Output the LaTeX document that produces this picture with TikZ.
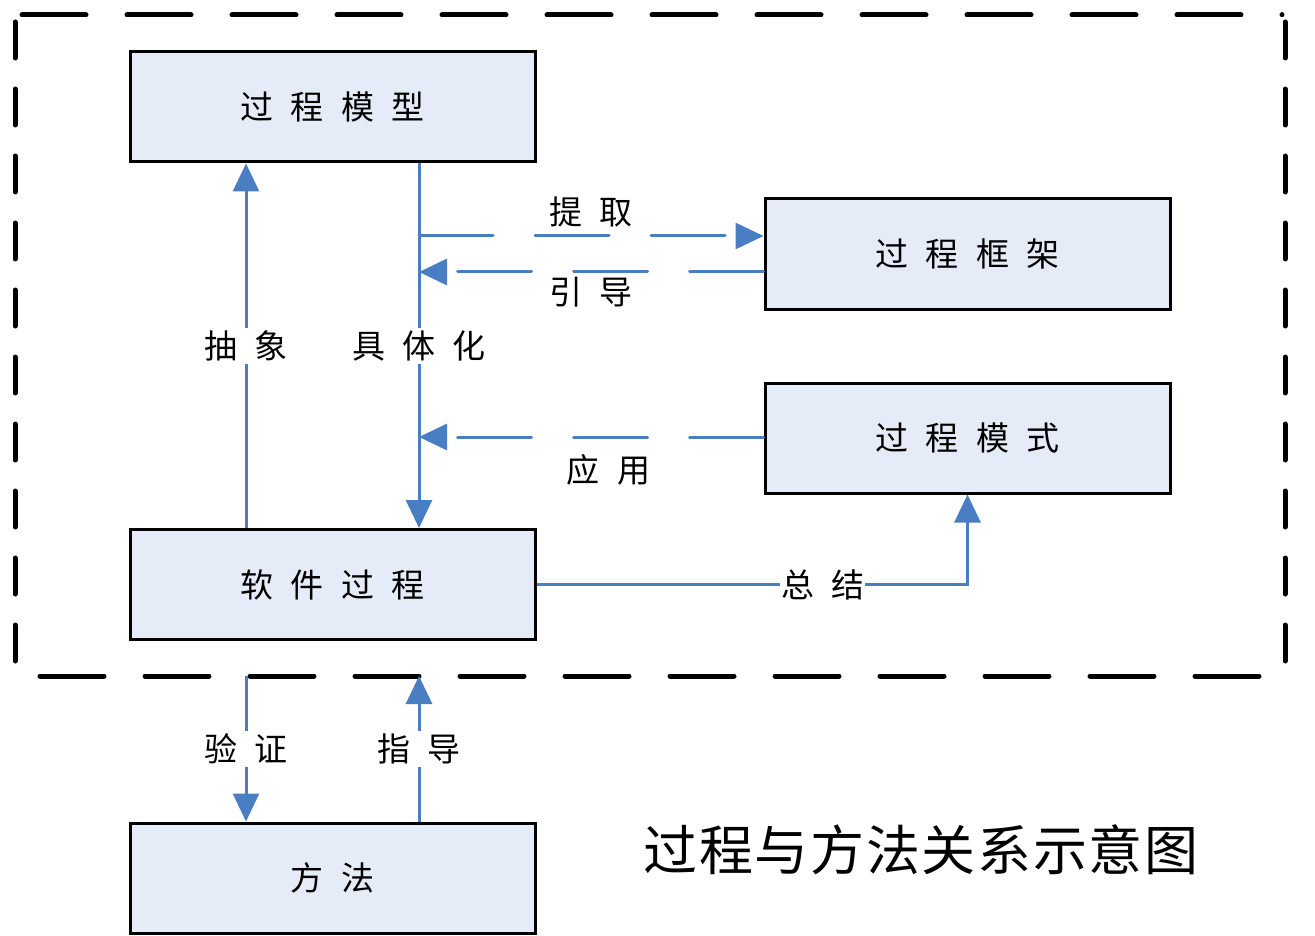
\documentclass[tikz,border=0pt]{standalone}
\usepackage{fontspec}
\usetikzlibrary{arrows.meta}
\newfontfamily\cjk[LetterSpace=52]{Noto Sans CJK SC}
\newfontfamily\cjktitle[LetterSpace=3]{Noto Sans CJK SC}
\definecolor{bl}{RGB}{74,126,194}
\definecolor{bf}{RGB}{230,236,247}
\begin{document}
\begin{tikzpicture}[x=1pt,y=-1pt,
  box/.style={draw=black,line width=3pt,fill=bf,minimum width=405pt,minimum height=110pt,inner sep=0pt,font=\cjk\fontsize{33}{38}\selectfont},
  conn/.style={draw=bl,line width=3pt},
  arr/.style={conn,-{Triangle[length=28pt,width=26pt]}},
  dsh/.style={dash pattern=on 74pt off 42pt,line cap=round},
  lbl/.style={font=\cjk\fontsize{33}{38}\selectfont,inner sep=3pt,text=black},
  hframe/.style={draw=black,line width=5pt,dash pattern=on 64pt off 41pt,line cap=round},
  vframe/.style={draw=black,line width=5pt,dash pattern=on 36pt off 31pt,line cap=round}]
\useasboundingbox (0,0) rectangle (1315,936);
\fill[white] (0,0) rectangle (1315,936);
% dashed frame
\draw[hframe] (22,15) -- (1282,15);
\draw[vframe] (15,22) -- (15,665);
\draw[vframe] (1285,22) -- (1285,665);
\draw[hframe] (40,676) -- (1270,676);
% boxes
\node[box] (m) at (332.5,107) {过程模型};
\node[box] (f) at (967.5,254) {过程框架};
\node[box] (p) at (967.5,438) {过程模式};
\node[box] (s) at (332.5,584.5) {软件过程};
\node[box] (fa) at (332.5,878) {方法};
% helper coordinates
\coordinate (xa) at (246,0);
\coordinate (xb) at (419,0);
\coordinate (fr) at (0,676);
\coordinate (t1) at (419,236);
\coordinate (t2) at (419,272);
\coordinate (t3) at (419,437);
% connectors
\draw[arr] (s.north -| xa) -- node[lbl,fill=white]{抽象} (m.south -| xa);
\draw[arr] (m.south -| xb) -- node[lbl,fill=white]{具体化} (s.north -| xb);
\draw[arr,dsh] (t1) -- node[lbl,yshift=24pt]{提取} (t1 -| f.west);
\draw[arr,dsh] (t2 -| f.west) -- node[lbl,yshift=-20pt]{引导} (t2);
\draw[arr,dsh] (t3 -| p.west) -- node[lbl,pos=0.45,yshift=-33pt]{应用} (t3);
\draw[arr] (s.east) -| node[lbl,fill=white,inner sep=1pt,pos=0.332]{总结} (p.south);
\draw[arr] (xa |- fr) -- node[lbl,fill=white]{验证} (fa.north -| xa);
\draw[arr] (fa.north -| xb) -- node[lbl,fill=white]{指导} (xb |- fr);
% title
\node[font=\cjktitle\fontsize{54}{58}\selectfont] (t) at (921,850) {过程与方法关系示意图};
\end{tikzpicture}
\end{document}
